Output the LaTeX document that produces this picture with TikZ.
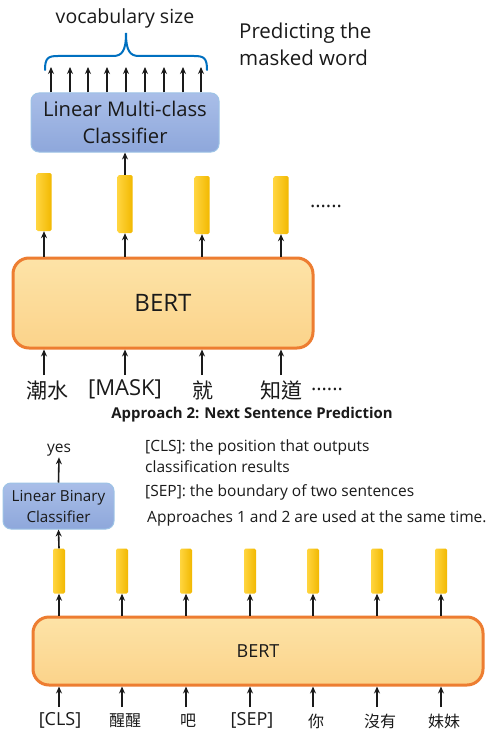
\documentclass[tikz,border=0pt]{standalone}
\usepackage{fontspec}
\setmainfont{Open Sans}
\newfontfamily\cjk{Noto Sans CJK TC}
\usetikzlibrary{arrows.meta}
\definecolor{txt}{HTML}{1A1A1A}
\definecolor{braceblue}{HTML}{0070C0}
\definecolor{clsborder}{HTML}{9DC3E6}
\definecolor{clstop}{HTML}{A9BEE8}
\definecolor{clsbot}{HTML}{8EA7DB}
\definecolor{berttop}{HTML}{FDE3A7}
\definecolor{bertbot}{HTML}{FBD38A}
\definecolor{bertborder}{HTML}{ED7D31}
\definecolor{barL}{HTML}{FFD53F}
\definecolor{barR}{HTML}{F2B800}
\begin{document}
\begin{tikzpicture}[x=1pt,y=-1pt,
  arr/.style={-{Stealth[length=7pt,width=6pt]}, line width=1.6pt, txt},
  bar/.style={draw=none, left color=barL, right color=barR, minimum width=#1, inner sep=0pt, rounded corners=1.5pt},
  bar/.default=15pt,
  clsbox/.style={draw=clsborder, line width=1pt, top color=clstop, bottom color=clsbot, rounded corners=8pt, align=center, inner sep=0pt, text=txt},
  bertbox/.style={draw=bertborder, line width=3pt, top color=berttop, bottom color=bertbot, rounded corners=16pt, inner sep=0pt, text=txt},
  lbl/.style={text=txt, inner sep=1pt},
]
\useasboundingbox (0,0) rectangle (491,733);
\fill[white] (0,0) rectangle (491,733);

%% ---------- Approach 1 ----------
\node[lbl, font=\fontsize{19.5}{21}\selectfont] (vocab) at (125,18) {vocabulary size};
\node[lbl, anchor=west, align=left, font=\fontsize{20.5}{27}\selectfont] (pred) at (238,44) {Predicting the\\masked word};

\node[clsbox, minimum width=188pt, minimum height=59pt, font=\fontsize{20.2}{27}\selectfont] (mc) at (125,122.5) {Linear Multi-class\\Classifier};

% brace
\coordinate (brL) at (45,70);
\coordinate (brR) at (207,70);
\coordinate (brT) at (126,33);
\draw[braceblue, line width=2pt, line cap=round]
  (brL) .. controls (45,58) and (48,56) .. (58,56) -- (113,56)
  .. controls (122,56) and (126,51) .. (brT)
  .. controls (126,51) and (130,56) .. (139,56) -- (194,56)
  .. controls (204,56) and (207,58) .. (brR);

% nine output arrows
\foreach \i/\x in {1/51,2/70,3/88,4/107,5/126,6/145,7/164,8/183,9/201}{
  \coordinate (o\i) at (\x,67);
  \draw[arr] (mc.north -| o\i) -- (o\i);
}

\node[bertbox, minimum width=300pt, minimum height=90pt, font=\fontsize{24}{26}\selectfont] (bert1) at (163,303) {BERT};

% bars
\node[bar, minimum height=58pt] (t1) at (44,202) {};
\node[bar, minimum height=58pt] (t2) at (125,204) {};
\node[bar, minimum height=58pt] (t3) at (202,205) {};
\node[bar, minimum height=58pt] (t4) at (281,205) {};
\node[lbl, font=\fontsize{20}{22}\selectfont] (dots1) at (326,206) {......};

\foreach \i in {1,...,4}{
  \draw[arr] (bert1.north -| t\i) -- (t\i.south);
}
\draw[arr] (t2.north) -- (mc.south);

% inputs
\node[lbl, font=\cjk\fontsize{21}{24}\selectfont] (w1) at (47,391) {潮水};
\node[lbl, font=\fontsize{22}{24}\selectfont] (w2) at (125,389) {[MASK]};
\node[lbl, font=\cjk\fontsize{21}{24}\selectfont] (w3) at (203,391) {就};
\node[lbl, font=\cjk\fontsize{21}{24}\selectfont] (w4) at (281,391) {知道};
\node[lbl, font=\fontsize{20}{22}\selectfont] (dots2) at (327,389) {......};
\foreach \i/\x in {1/44,2/125,3/202,4/281}{
  \coordinate (in\i) at (\x,375);
  \draw[arr] (in\i) -- (bert1.south -| in\i);
}

%% ---------- Approach 2 ----------
\node[lbl, font=\bfseries\fontsize{14.9}{17}\selectfont] (ap2) at (252,415) {Approach 2: Next Sentence Prediction};

\node[lbl, font=\fontsize{15.5}{17}\selectfont] (yes) at (59,450) {yes};
\node[clsbox, minimum width=111pt, minimum height=46pt, font=\fontsize{15.2}{21}\selectfont] (bc) at (58.5,506) {Linear Binary\\Classifier};
\draw[arr] (bc.north) -- (yes.south);

\node[lbl, anchor=west, align=left, font=\fontsize{15.5}{21}\selectfont] (n1) at (144,456.5) {[CLS]: the position that outputs\\classification results};
\node[lbl, anchor=west, font=\fontsize{15.5}{17}\selectfont] (n2) at (144,492) {[SEP]: the boundary of two sentences};
\node[lbl, anchor=west, font=\fontsize{15.5}{17}\selectfont] (n3) at (146,518) {Approaches 1 and 2 are used at the same time.};

\node[bertbox, minimum width=450pt, minimum height=68pt, font=\fontsize{18}{20}\selectfont] (bert2) at (258,651) {BERT};

\foreach \i/\x in {1/59,2/122,3/186,4/250,5/313,6/377,7/441}{
  \node[bar=12pt, minimum height=45pt] (s\i) at (\x,571) {};
  \draw[arr] (bert2.north -| s\i) -- (s\i.south);
  \coordinate (j\i) at (\x,707);
  \draw[arr] (j\i) -- (bert2.south -| j\i);
}
\draw[arr] (s1.north) -- (bc.south);

\node[lbl, font=\fontsize{18}{19}\selectfont] (x1) at (60,720) {[CLS]};
\node[lbl, font=\cjk\fontsize{16}{18}\selectfont] (x2) at (125,721) {醒醒};
\node[lbl, font=\cjk\fontsize{16}{18}\selectfont] (x3) at (188,721) {吧};
\node[lbl, font=\fontsize{18}{19}\selectfont] (x4) at (252,720) {[SEP]};
\node[lbl, font=\cjk\fontsize{16}{18}\selectfont] (x5) at (316,721) {你};
\node[lbl, font=\cjk\fontsize{16}{18}\selectfont] (x6) at (380,721) {沒有};
\node[lbl, font=\cjk\fontsize{16}{18}\selectfont] (x7) at (444,721) {妹妹};
\end{tikzpicture}
\end{document}
